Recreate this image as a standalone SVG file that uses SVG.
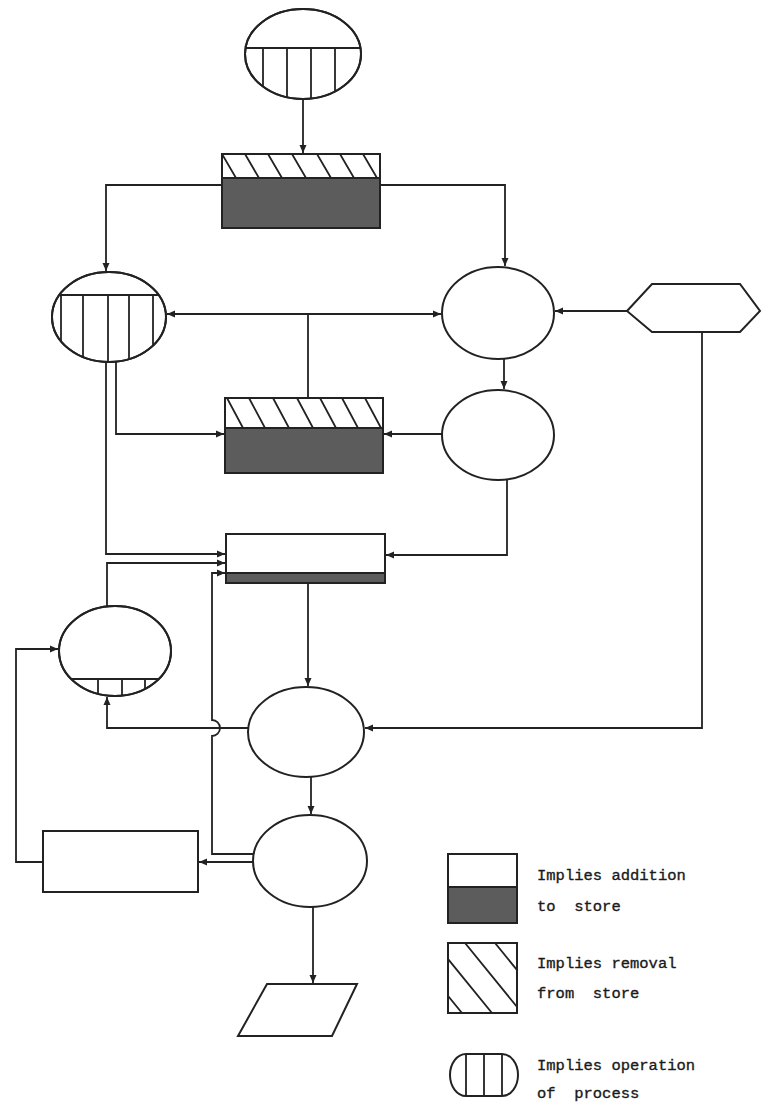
<svg xmlns="http://www.w3.org/2000/svg" width="762" height="1106" viewBox="0 0 762 1106">
<style>
.s{fill:none;stroke:#222;stroke-width:2}
.w{fill:#fff;stroke:#222;stroke-width:2}
.d{fill:#5c5c5c;stroke:#222;stroke-width:2}
.h{stroke:#222;stroke-width:1.8;fill:none}
.c{fill:none;stroke:#222;stroke-width:1.8;marker-end:url(#ah)}
.n{fill:none;stroke:#222;stroke-width:1.8}
.t{font-family:"Liberation Mono","DejaVu Sans Mono",monospace;font-size:15.5px;fill:#1a1a1a;stroke:#1a1a1a;stroke-width:0.35;white-space:pre}
</style>
<defs>
<marker id="ah" markerUnits="userSpaceOnUse" markerWidth="9" markerHeight="8" refX="8" refY="4" orient="auto">
<path d="M0,0.5 L8,4 L0,7.5 z" fill="#222"/>
</marker>
<clipPath id="cTop"><ellipse cx="303" cy="54" rx="58" ry="45"/></clipPath>
<clipPath id="cLeft"><ellipse cx="109" cy="317" rx="57" ry="45"/></clipPath>
<clipPath id="cBL"><ellipse cx="115" cy="651" rx="56" ry="45"/></clipPath>
<clipPath id="cS1"><rect x="222" y="154" width="158" height="24"/></clipPath>
<clipPath id="cS2"><rect x="225" y="398" width="158" height="30"/></clipPath>
<clipPath id="cLg"><rect x="448" y="943" width="69" height="70"/></clipPath>
</defs>
<rect width="762" height="1106" fill="#fff"/>

<g id="connectors">
<path class="c" d="M303,100 V153"/>
<path class="c" d="M222,185 H106 V271"/>
<path class="c" d="M380,185 H505 V266"/>
<path class="c" d="M300,314 H441"/>
<path class="c" d="M300,314 H167"/>
<path class="n" d="M308,314 V398"/>
<path class="c" d="M116,362 V434 H224"/>
<path class="c" d="M106,362 V554 H225"/>
<path class="c" d="M504,359 V389"/>
<path class="c" d="M442,434 H384"/>
<path class="c" d="M627,311 H555"/>
<path class="c" d="M702,332 V728 H365"/>
<path class="c" d="M507,480 V555 H386"/>
<path class="c" d="M107,607 V563 H225"/>
<path class="c" d="M254,854 H212 V736 A8,8 0 0 0 212,720 V573 H225"/>
<path class="c" d="M308,583 V686"/>
<path class="c" d="M249,728 H107 V697"/>
<path class="c" d="M311,777 V814"/>
<path class="c" d="M254,862 H199"/>
<path class="c" d="M43,862 H16 V649 H58"/>
<path class="c" d="M313,907 V983"/>
</g>

<g id="node-top">
<ellipse class="w" cx="303" cy="54" rx="58" ry="45"/>
<g clip-path="url(#cTop)" class="h">
<path d="M240,48 H370 M263,48 V110 M287,48 V110 M311,48 V110 M335,48 V110"/>
</g>
<ellipse class="s" cx="303" cy="54" rx="58" ry="45"/>
</g>

<g id="store-1">
<rect class="d" x="222" y="178" width="158" height="50"/>
<rect class="w" x="222" y="154" width="158" height="24"/>
<g clip-path="url(#cS1)" class="h">
<path d="M222,154 l14,24 M245,154 l14,24 M268,154 l14,24 M292,154 l14,24 M317,154 l14,24 M340,154 l14,24 M363,154 l14,24"/>
</g>
<rect class="s" x="222" y="154" width="158" height="74"/>
</g>

<g id="node-left">
<ellipse class="w" cx="109" cy="317" rx="57" ry="45"/>
<g clip-path="url(#cLeft)" class="h">
<path d="M50,295 H170 M61,295 V370 M83,295 V370 M108,295 V370 M129,295 V370 M153,295 V370"/>
</g>
<ellipse class="s" cx="109" cy="317" rx="57" ry="45"/>
</g>

<g id="node-right-1">
<ellipse class="w" cx="498" cy="313" rx="56" ry="46"/>
</g>

<g id="node-hexagon">
<polygon class="w" points="627,311 652,284 740,284 760,311 740,332 652,332"/>
</g>

<g id="store-2">
<rect class="d" x="225" y="428" width="158" height="45"/>
<rect class="w" x="225" y="398" width="158" height="30"/>
<g clip-path="url(#cS2)" class="h">
<path d="M227,398 l16,30 M249,398 l16,30 M273,398 l16,30 M297,398 l16,30 M320,398 l16,30 M342,398 l16,30 M365,398 l16,30"/>
</g>
<rect class="s" x="225" y="398" width="158" height="75"/>
</g>

<g id="node-right-2">
<ellipse class="w" cx="498" cy="435" rx="56" ry="45"/>
</g>

<g id="store-3">
<rect class="w" x="226" y="534" width="159" height="39"/>
<rect class="d" x="226" y="573" width="159" height="10"/>
<rect class="s" x="226" y="534" width="159" height="49"/>
</g>

<g id="node-bottom-left">
<ellipse class="w" cx="115" cy="651" rx="56" ry="45"/>
<g clip-path="url(#cBL)" class="h">
<path d="M55,679 H175 M98,679 V700 M122,679 V700 M145,679 V700"/>
</g>
<ellipse class="s" cx="115" cy="651" rx="56" ry="45"/>
</g>

<g id="node-ellipse-a">
<ellipse class="w" cx="306" cy="732" rx="58" ry="45"/>
</g>

<g id="node-ellipse-b">
<ellipse class="w" cx="310" cy="861" rx="57" ry="46"/>
</g>

<g id="node-rect">
<rect class="w" x="43" y="831" width="155" height="61"/>
</g>

<g id="node-parallelogram">
<polygon class="w" points="267,984 357,984 332,1036 238,1036"/>
</g>

<g id="legend">
<g id="legend-addition">
<rect class="w" x="448" y="854" width="69" height="33"/>
<rect class="d" x="448" y="887" width="69" height="36"/>
<rect class="s" x="448" y="854" width="69" height="69"/>
<text class="t" x="537" y="880">Implies addition</text>
<text class="t" x="537" y="911">to  store</text>
</g>
<g id="legend-removal">
<rect class="w" x="448" y="943" width="69" height="70"/>
<g clip-path="url(#cLg)" class="h">
<path d="M405,943 l57,70 M435,943 l57,70 M465,943 l57,70 M495,943 l57,70"/>
</g>
<rect class="s" x="448" y="943" width="69" height="70"/>
<text class="t" x="537" y="968">Implies removal</text>
<text class="t" x="537" y="998">from  store</text>
</g>
<g id="legend-process">
<path class="w" d="M466,1054 H502 A16,21 0 0 1 502,1096 H466 A16,21 0 0 1 466,1054 z"/>
<path class="h" d="M466,1054 V1096 M484,1054 V1096 M502,1054 V1096"/>
<text class="t" x="537" y="1070">Implies operation</text>
<text class="t" x="537" y="1098">of  process</text>
</g>
</g>
</svg>
